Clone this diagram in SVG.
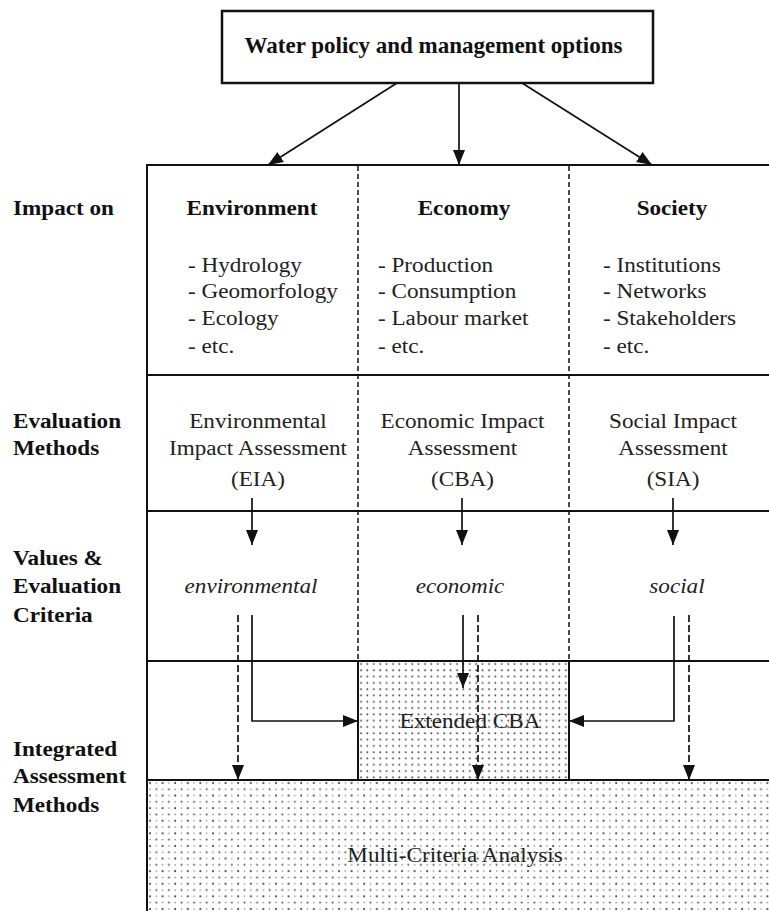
<svg xmlns="http://www.w3.org/2000/svg" width="769" height="911" viewBox="0 0 769 911">
  <style>
    .title { font-family: "Liberation Serif", "Times New Roman", serif; font-size: 23px; font-weight: bold; fill: #111; }
    .lbl { font-family: "Liberation Serif", "Times New Roman", serif; font-size: 20.5px; font-weight: bold; fill: #111; }
    .txt { font-family: "Liberation Serif", "Times New Roman", serif; font-size: 20.5px; fill: #222; }
    .it { font-family: "Liberation Serif", "Times New Roman", serif; font-size: 20.5px; font-style: italic; fill: #222; }
    .mid { text-anchor: middle; }
    .grid { stroke: #111; stroke-width: 2; fill: none; }
    .sep { stroke: #111; stroke-width: 1.5; stroke-dasharray: 5 3; fill: none; }
    .arr { stroke: #111; stroke-width: 1.7; fill: none; }
    .darr { stroke: #111; stroke-width: 1.7; stroke-dasharray: 7 3; fill: none; }
  </style>
  <defs>
    <marker id="head" markerUnits="userSpaceOnUse" markerWidth="16" markerHeight="16" viewBox="0 0 16 16" refX="15" refY="8" orient="auto">
      <path d="M0,2 L15,8 L0,14 Z" fill="#111"/>
    </marker>
    <pattern id="dotsMCA" patternUnits="userSpaceOnUse" x="147" y="780" width="12.6" height="12.6">
      <circle cx="3" cy="3" r="1" fill="#333"/>
      <circle cx="9.3" cy="3" r="0.8" fill="#888"/>
      <circle cx="3" cy="9.3" r="0.8" fill="#777"/>
      <circle cx="9.3" cy="9.3" r="0.95" fill="#444"/>
    </pattern>
    <pattern id="dotsCBA" patternUnits="userSpaceOnUse" x="358" y="661" width="6.4" height="6.3">
      <circle cx="3" cy="3" r="0.95" fill="#444"/>
    </pattern>
  </defs>

  <!-- shaded integrated-assessment areas -->
  <g id="mca-area">
    <rect x="147" y="780" width="622" height="131" fill="url(#dotsMCA)"/>
  </g>
  <g id="extended-cba">
    <rect x="358" y="661" width="211" height="119" fill="url(#dotsCBA)" stroke="#111" stroke-width="2"/>
  </g>

  <!-- top node -->
  <g id="policy-options">
    <rect x="222" y="11" width="431" height="72" fill="#fff" stroke="#111" stroke-width="2.5"/>
    <text class="title mid" x="433.5" y="53">Water policy and management options</text>
  </g>

  <!-- table grid -->
  <g id="table">
    <line class="grid" x1="147" y1="165" x2="769" y2="165"/>
    <line class="grid" x1="147" y1="375" x2="769" y2="375"/>
    <line class="grid" x1="147" y1="511" x2="769" y2="511"/>
    <line class="grid" x1="147" y1="661" x2="769" y2="661"/>
    <line class="grid" x1="147" y1="780" x2="769" y2="780"/>
    <line class="grid" x1="147" y1="164" x2="147" y2="911"/>
    <line class="sep" x1="358" y1="166" x2="358" y2="661"/>
    <line class="sep" x1="569" y1="166" x2="569" y2="661"/>
  </g>

  <!-- connectors -->
  <g id="connectors">
    <line class="arr" x1="397" y1="83" x2="268" y2="165" marker-end="url(#head)"/>
    <line class="arr" x1="459" y1="83" x2="459" y2="165" marker-end="url(#head)"/>
    <line class="arr" x1="522" y1="83" x2="652" y2="165" marker-end="url(#head)"/>

    <line class="arr" x1="252" y1="498" x2="252" y2="545" marker-end="url(#head)"/>
    <line class="arr" x1="462" y1="498" x2="462" y2="545" marker-end="url(#head)"/>
    <line class="arr" x1="673" y1="498" x2="673" y2="545" marker-end="url(#head)"/>

    <polyline class="arr" points="252,615 252,721 358,721" marker-end="url(#head)"/>
    <line class="darr" x1="238" y1="615" x2="238" y2="780" marker-end="url(#head)"/>

    <line class="arr" x1="463" y1="615" x2="463" y2="688" marker-end="url(#head)"/>
    <line class="darr" x1="478" y1="615" x2="478" y2="780" marker-end="url(#head)"/>

    <polyline class="arr" points="674,616 674,721 569,721" marker-end="url(#head)"/>
    <line class="darr" x1="689" y1="615" x2="689" y2="780" marker-end="url(#head)"/>
  </g>

  <!-- cell and row texts; widened glyphs, x given in scaled units -->
  <g transform="scale(1.13 1)">
    <g id="row-labels">
      <text class="lbl" x="11.5" y="215">Impact on</text>
      <text class="lbl" x="11.5" y="428">Evaluation</text>
      <text class="lbl" x="11.5" y="455">Methods</text>
      <text class="lbl" x="11.5" y="565">Values &amp;</text>
      <text class="lbl" x="11.5" y="593">Evaluation</text>
      <text class="lbl" x="11.5" y="622">Criteria</text>
      <text class="lbl" x="11.5" y="756">Integrated</text>
      <text class="lbl" x="11.5" y="783">Assessment</text>
      <text class="lbl" x="11.5" y="812">Methods</text>
    </g>
    <g id="environment">
      <text class="lbl mid" x="223" y="215">Environment</text>
      <text class="txt" x="166.4" y="272">- Hydrology</text>
      <text class="txt" x="166.4" y="298">- Geomorfology</text>
      <text class="txt" x="166.4" y="325">- Ecology</text>
      <text class="txt" x="166.4" y="353">- etc.</text>
      <text class="txt mid" x="228.3" y="428">Environmental</text>
      <text class="txt mid" x="228.3" y="455">Impact Assessment</text>
      <text class="txt mid" x="228.3" y="486">(EIA)</text>
      <text class="it mid" x="222.1" y="593">environmental</text>
    </g>
    <g id="economy">
      <text class="lbl mid" x="410.6" y="215">Economy</text>
      <text class="txt" x="334.5" y="272">- Production</text>
      <text class="txt" x="334.5" y="298">- Consumption</text>
      <text class="txt" x="334.5" y="325">- Labour market</text>
      <text class="txt" x="334.5" y="353">- etc.</text>
      <text class="txt mid" x="409.3" y="428">Economic Impact</text>
      <text class="txt mid" x="409.3" y="455">Assessment</text>
      <text class="txt mid" x="409.3" y="486">(CBA)</text>
      <text class="it mid" x="407.1" y="593">economic</text>
    </g>
    <g id="society">
      <text class="lbl mid" x="594.7" y="215">Society</text>
      <text class="txt" x="533.6" y="272">- Institutions</text>
      <text class="txt" x="533.6" y="298">- Networks</text>
      <text class="txt" x="533.6" y="325">- Stakeholders</text>
      <text class="txt" x="533.6" y="353">- etc.</text>
      <text class="txt mid" x="595.6" y="428">Social Impact</text>
      <text class="txt mid" x="595.6" y="455">Assessment</text>
      <text class="txt mid" x="595.6" y="486">(SIA)</text>
      <text class="it mid" x="599.1" y="593">social</text>
    </g>
    <g id="method-labels">
      <text class="txt mid" x="415.9" y="728">Extended CBA</text>
      <text class="txt mid" x="402.7" y="862">Multi-Criteria Analysis</text>
    </g>
  </g>
</svg>
